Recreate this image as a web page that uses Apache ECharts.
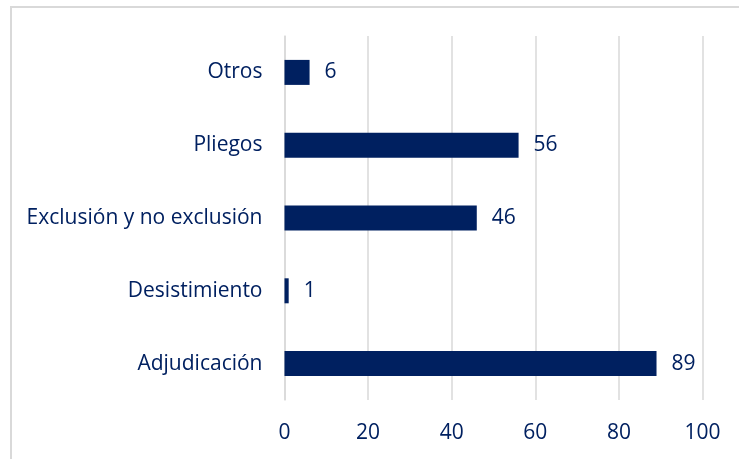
<!DOCTYPE html>
<html>
<head>
<meta charset="utf-8">
<script src="https://cdn.jsdelivr.net/npm/echarts@6/dist/echarts.min.js"></script>
<style>
  html, body { margin: 0; padding: 0; background: #fff; }
  #chart { width: 739px; height: 459px; }
</style>
</head>
<body>
<div id="chart"></div>
<script>
// orden de abajo hacia arriba (ECharts pinta la primera categoría abajo)
const categories = ['Adjudicación', 'Desistimiento', 'Exclusión y no exclusión', 'Pliegos', 'Otros'];
const values = [89, 1, 46, 56, 6];
const xTicks = [0, 20, 40, 60, 80, 100];

const navy = '#002060';
const font = 'Open Sans';

const chart = echarts.init(document.getElementById('chart'));

chart.setOption({
  animation: false,
  graphic: [{
    type: 'rect',
    shape: { x: 11, y: 7, width: 760, height: 480 },
    style: { fill: 'none', stroke: '#d9d9d9', lineWidth: 2 },
    silent: true
  }],
  grid: { left: 284.5, top: 36, width: 418, height: 364 },
  xAxis: {
    type: 'value',
    min: xTicks[0],
    max: xTicks[xTicks.length - 1],
    interval: 20,
    axisLine: { show: false },
    axisTick: { show: false },
    splitLine: { lineStyle: { color: '#d9d9d9', width: 1.5 } },
    axisLabel: { color: navy, fontFamily: font, fontSize: 21, margin: 23 }
  },
  yAxis: {
    type: 'category',
    data: categories,
    axisLine: { show: true, lineStyle: { color: '#d9d9d9', width: 1.5 } },
    axisTick: { show: false },
    axisLabel: { color: navy, fontFamily: font, fontSize: 21, margin: 22 }
  },
  series: [{
    type: 'bar',
    data: values,
    barWidth: 25,
    itemStyle: { color: navy },
    label: {
      show: true,
      position: 'right',
      distance: 15,
      color: navy,
      fontFamily: font,
      fontSize: 21
    }
  }]
});
</script>
</body>
</html>
